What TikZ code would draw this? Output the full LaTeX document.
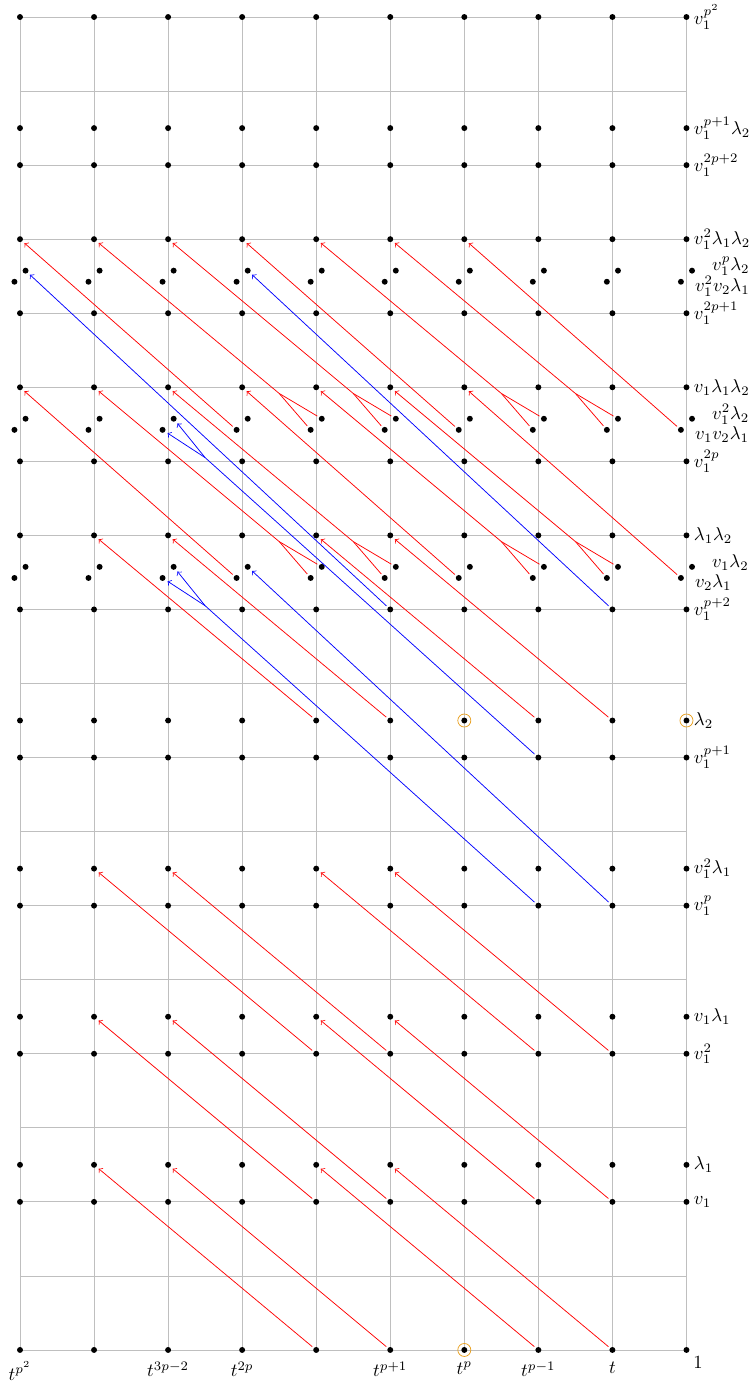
\documentclass[tikz,border=0pt]{standalone}
\usetikzlibrary{positioning}
\definecolor{ringorange}{RGB}{232,160,32}
\begin{document}
\begin{tikzpicture}[x=1.4cm,y=1.4cm,
  dot/.style={circle,fill,inner sep=0pt,minimum size=3.2pt},
  ring/.style={circle,draw=ringorange,inner sep=0pt,minimum size=7pt},
  rowlab/.style={inner sep=2pt},
  gridline/.style={black!25,line width=0.4pt},
  dred/.style={red,->,shorten >=1.4pt},
  dblue/.style={blue,->,shorten >=1.4pt},
  tail/.style={shorten <=1pt}]
\useasboundingbox (-0.27,-0.419) rectangle (9.87,18.23);
\draw[gridline,step=1.4cm] (0,0) grid (9,18);
\foreach \k in {0,4,5,8,9,12,13,16,17,20,22,24,26,28,30,32,33,36}
  \foreach \c in {0,...,9}
    \node[dot] (n-\c-\k) at (\c,\k/2) {};
\foreach \k in {21,25,29}
  \foreach \c in {0,...,9} {
    \node[dot] (L-\c-\k) at (\c-0.075,\k/2-0.075) {};
    \node[dot] (R-\c-\k) at (\c+0.075,\k/2+0.075) {};
  }
\node[ring] (o-6-0) at (n-6-0) {};
\node[ring] (o-6-17) at (n-6-17) {};
\node[ring] (o-9-17) at (n-9-17) {};
\foreach \k in {0,4,8,17}
  \foreach \c in {4,5,7,8} {
    \pgfmathtruncatemacro\s{\c-3}
    \pgfmathtruncatemacro\m{\k+5}
    \draw[dred,tail] (n-\c-\k) -- (n-\s-\m);
  }
\foreach \k in {21,25} {
  \pgfmathtruncatemacro\m{\k+5}
  \foreach \c in {4,5,7,8} {
    \pgfmathtruncatemacro\s{\c-3}
    \coordinate (F-\c-\k) at (\c-0.5,\k/2+5/12);
    \draw[red,tail] (L-\c-\k) -- (F-\c-\k);
    \draw[red,tail] (R-\c-\k) -- (F-\c-\k);
    \draw[dred] (F-\c-\k) -- (n-\s-\m);
  }
  \foreach \c in {3,6,9} {
    \pgfmathtruncatemacro\s{\c-3}
    \draw[dred,tail] (L-\c-\k) -- (n-\s-\m);
  }
}
\draw[dblue,tail] (n-5-20) -- (R-0-29);
\draw[dblue,tail] (n-8-20) -- (R-3-29);
\draw[dblue,tail] (n-8-12) -- (R-3-21);
\coordinate (G-2-25) at (2.5,12.05);
\draw[blue,tail] (n-7-16) -- (G-2-25);
\draw[dblue] (G-2-25) -- (L-2-25);
\draw[dblue] (G-2-25) -- (R-2-25);
\coordinate (G-2-21) at (2.5,10.05);
\draw[blue,tail] (n-7-12) -- (G-2-21);
\draw[dblue] (G-2-21) -- (L-2-21);
\draw[dblue] (G-2-21) -- (R-2-21);
\foreach \k/\txt in {4/v_1,5/\lambda_1,8/v_1^2,9/v_1\lambda_1,12/v_1^p,13/v_1^2\lambda_1,
    16/v_1^{p+1},17/\lambda_2,20/v_1^{p+2},22/\lambda_1\lambda_2,24/v_1^{2p},
    26/v_1\lambda_1\lambda_2,28/v_1^{2p+1},30/v_1^2\lambda_1\lambda_2,32/v_1^{2p+2},
    33/v_1^{p+1}\lambda_2,36/v_1^{p^2}}
  \node[rowlab,right=0pt of n-9-\k] (lab-\k) {$\txt$};
\foreach \k/\rt/\lt in {21/v_1\lambda_2/v_2\lambda_1,25/v_1^2\lambda_2/v_1v_2\lambda_1,
    29/v_1^p\lambda_2/v_1^2v_2\lambda_1} {
  \node[rowlab,right=6.8pt of R-9-\k,yshift=2.4pt] (rl-\k) {$\rt$};
  \node[rowlab,right=3.6pt of L-9-\k,yshift=-2.4pt] (ll-\k) {$\lt$};
}
\foreach \c/\txt in {0/t^{p^2},2/t^{3p-2},3/t^{2p},5/t^{p+1},6/t^p,7/t^{p-1},8/t}
  \node[below=1pt of n-\c-0] (x-\c) {$\txt$};
\node[anchor=north west,inner sep=2.3pt] (x-9) at (n-9-0.south east) {$1$};
\end{tikzpicture}
\end{document}
